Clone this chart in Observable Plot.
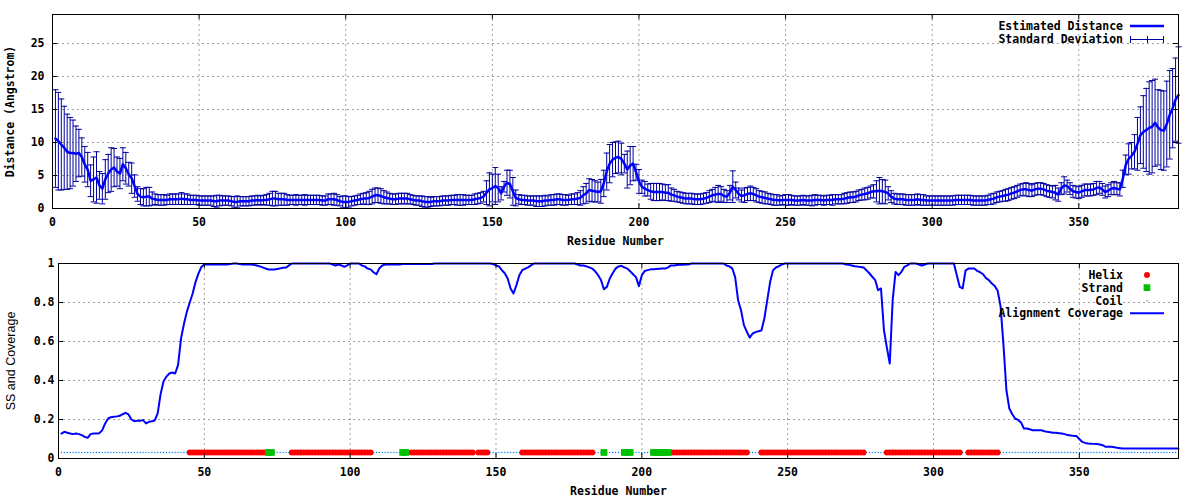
<!DOCTYPE html>
<html><head><meta charset="utf-8">
<script src="https://cdn.jsdelivr.net/npm/d3@7"></script>
<script src="https://cdn.jsdelivr.net/npm/@observablehq/plot@0.6"></script>
<style>body{margin:0;background:#fff}#chart svg{display:block}</style>
</head><body><div id="chart"></div>
<script>
// ---------- DATA ----------
const residues = d3.range(1, 385);
const distMean = [
10.6,10.2,9.7,9.2,8.6,8.4,8.4,8.3,8.4,7.8,
6.7,5.9,4.2,4.4,4.7,3.5,3.0,4.4,5.3,5.9,
6.2,5.6,5.3,6.7,6.1,5.2,4.6,3.4,2.2,1.8,
1.7,1.8,1.8,1.5,1.4,1.3,1.3,1.3,1.3,1.4,
1.4,1.4,1.4,1.5,1.4,1.4,1.3,1.3,1.3,1.2,
1.2,1.2,1.2,1.2,1.1,1.1,1.2,1.2,1.2,1.2,
1.1,1.0,1.0,1.1,1.1,1.1,1.1,1.2,1.2,1.3,
1.2,1.3,1.3,1.4,1.5,1.5,1.4,1.4,1.4,1.3,
1.3,1.3,1.3,1.3,1.3,1.3,1.3,1.3,1.3,1.3,
1.3,1.2,1.2,1.4,1.4,1.4,1.3,1.1,1.0,1.0,
1.0,1.1,1.2,1.3,1.4,1.5,1.5,1.6,1.8,2.0,
2.0,1.9,1.7,1.6,1.5,1.4,1.4,1.5,1.5,1.5,
1.5,1.4,1.3,1.2,1.2,1.1,1.0,1.0,1.0,1.1,
1.1,1.1,1.2,1.2,1.2,1.3,1.3,1.3,1.3,1.3,
1.3,1.3,1.3,1.4,1.5,1.6,1.8,2.4,2.9,3.1,
3.4,3.1,2.3,3.3,3.9,3.7,2.6,1.6,1.4,1.3,
1.3,1.2,1.2,1.2,1.1,1.1,1.1,1.2,1.2,1.3,
1.3,1.4,1.4,1.3,1.3,1.3,1.4,1.4,1.5,1.6,
2.0,2.3,2.8,2.7,2.6,2.5,2.6,3.8,5.6,6.8,
7.4,7.7,7.8,7.5,6.8,5.9,6.5,6.8,5.5,4.1,
3.3,3.0,2.8,2.6,2.5,2.5,2.5,2.5,2.4,2.4,
2.1,2.0,1.8,1.7,1.6,1.5,1.5,1.5,1.4,1.4,
1.4,1.5,1.6,1.8,2.0,2.1,2.2,2.2,1.9,1.8,
2.4,3.3,2.8,2.2,1.9,2.0,2.2,2.3,2.2,2.0,
1.8,1.7,1.6,1.5,1.4,1.3,1.3,1.2,1.3,1.3,
1.3,1.3,1.2,1.2,1.2,1.3,1.2,1.2,1.2,1.3,
1.3,1.3,1.2,1.3,1.3,1.3,1.4,1.4,1.4,1.5,
1.6,1.7,1.7,1.8,2.0,2.1,2.2,2.3,2.5,2.6,
2.6,2.7,2.6,2.5,2.3,1.8,1.5,1.4,1.4,1.4,
1.3,1.3,1.3,1.3,1.4,1.3,1.3,1.2,1.2,1.2,
1.2,1.2,1.2,1.2,1.2,1.2,1.2,1.3,1.3,1.3,
1.3,1.3,1.3,1.2,1.2,1.2,1.2,1.2,1.3,1.4,
1.5,1.7,1.8,1.9,2.0,2.1,2.3,2.4,2.6,2.8,
2.9,2.9,2.8,2.7,2.9,3.0,3.0,2.9,2.7,2.6,
2.5,2.4,2.1,3.0,3.5,3.4,3.0,2.6,2.5,2.4,
2.6,2.8,2.8,2.8,2.9,3.1,3.2,2.9,2.5,2.7,
3.0,3.1,3.0,2.9,4.5,6.6,7.5,8.0,8.6,9.8,
11.1,11.6,11.9,12.2,12.4,13.0,12.3,11.9,11.8,12.8,
14.2,15.2,16.5,17.2];
const distSD = [
7.4,7.4,6.9,6.3,5.7,5.4,5.0,4.2,3.6,2.9,
2.7,2.6,2.4,3.4,3.9,2.1,2.3,3.0,2.9,3.3,
2.9,2.2,2.3,2.5,2.4,1.8,2.3,1.7,1.1,1.2,
1.3,1.4,1.4,1.0,0.8,0.8,0.8,0.8,0.7,0.8,
0.8,0.8,0.8,0.9,0.8,0.8,0.7,0.7,0.7,0.7,
0.7,0.7,0.7,0.7,0.8,0.9,0.8,0.7,0.7,0.7,
0.7,0.8,0.9,0.7,0.7,0.7,0.7,0.7,0.7,0.7,
0.7,0.7,0.8,0.9,1.1,1.1,0.9,0.9,0.9,0.8,
0.7,0.7,0.8,0.7,0.7,0.8,0.7,0.7,0.7,0.7,
0.7,0.7,0.7,0.8,0.8,0.9,0.8,0.7,0.9,0.9,
0.8,0.7,0.7,0.7,0.8,0.8,0.9,1.0,1.1,1.1,
1.1,1.1,1.0,0.9,0.8,0.8,0.8,0.8,0.8,0.8,
0.8,0.7,0.7,0.7,0.7,0.8,0.8,0.8,0.7,0.7,
0.7,0.7,0.7,0.7,0.7,0.7,0.7,0.8,0.8,0.8,
0.7,0.7,0.7,0.8,0.8,0.8,0.8,1.8,2.5,2.1,
2.8,2.1,1.0,0.8,1.9,2.1,2.1,1.2,0.7,0.7,
0.7,0.7,0.7,0.7,0.8,0.8,0.8,0.8,0.7,0.8,
0.8,0.8,0.8,0.8,0.8,0.7,0.8,0.8,0.9,1.1,
1.3,1.5,1.7,1.7,1.6,1.5,1.8,2.0,2.8,2.9,
2.6,2.4,2.4,2.4,1.4,2.8,2.9,2.6,1.2,1.8,
1.0,1.1,0.9,1.2,1.3,1.3,1.3,1.2,1.2,1.2,
1.0,0.9,0.8,0.8,0.8,0.8,0.8,0.8,0.8,0.8,
0.8,0.8,0.8,0.9,0.9,1.1,1.3,1.1,1.0,0.9,
1.1,2.4,1.2,0.9,0.9,1.1,1.0,1.1,1.0,1.0,
0.9,0.9,0.9,0.8,0.8,0.8,0.8,0.7,0.7,0.8,
0.8,0.7,0.7,0.7,0.7,0.7,0.7,0.7,0.8,0.8,
0.7,0.7,0.7,0.7,0.7,0.8,0.7,0.7,0.7,0.8,
0.8,0.8,0.8,0.8,0.8,0.8,0.9,0.9,0.9,1.0,
1.6,2.0,1.8,1.8,1.0,0.9,0.8,0.8,0.8,0.8,
0.8,0.8,0.8,0.8,0.8,0.8,0.8,0.7,0.7,0.7,
0.7,0.7,0.7,0.7,0.7,0.7,0.7,0.7,0.7,0.7,
0.7,0.7,0.7,0.7,0.7,0.7,0.7,0.7,0.7,0.8,
0.8,0.8,0.8,0.8,0.9,0.9,0.9,0.9,0.9,0.9,
0.9,1.0,1.0,0.9,0.9,0.9,0.9,0.9,0.9,0.9,
0.9,1.1,1.0,0.9,1.3,0.9,0.9,0.9,0.9,0.9,
0.9,0.9,0.9,0.9,0.9,1.0,0.9,0.9,0.9,0.9,
0.9,1.0,0.9,1.0,1.3,1.5,2.3,2.0,2.6,4.0,
4.3,5.5,6.3,7.0,7.0,6.6,5.7,6.0,6.0,6.5,
6.7,6.0,6.3,7.3];
const coverage = [
0.128,0.137,0.132,0.128,0.125,0.128,0.125,0.120,0.111,0.106,
0.125,0.128,0.128,0.130,0.145,0.180,0.205,0.212,0.214,0.216,
0.219,0.227,0.234,0.226,0.200,0.191,0.193,0.193,0.197,0.180,
0.188,0.191,0.195,0.231,0.330,0.395,0.420,0.436,0.441,0.436,
0.480,0.615,0.690,0.752,0.800,0.846,0.906,0.949,0.983,0.995,
0.995,0.995,0.995,0.995,0.995,0.995,0.995,0.995,0.998,1,
1,0.998,0.995,0.995,0.995,0.995,0.993,0.990,0.985,0.980,
0.974,0.969,0.969,0.969,0.972,0.975,0.978,0.979,0.990,1,
1,1,1,1,1,1,1,1,1,1,
1,1,1,0.995,0.990,0.995,0.990,0.983,0.990,1,
1,1,1,0.990,0.985,0.974,0.970,0.955,0.945,0.975,
0.990,0.995,0.995,0.995,0.995,0.995,0.995,0.997,0.997,0.997,
0.997,0.997,0.997,0.997,0.997,0.997,0.998,0.998,1,1,
1,1,1,1,1,1,1,1,1,1,
1,1,1,1,1,1,1,1,0.997,0.990,
0.985,0.966,0.950,0.923,0.872,0.846,0.889,0.940,0.966,0.974,
0.980,0.990,1,1,1,1,1,1,1,1,
1,1,1,1,1,1,1,0.995,0.990,0.990,
0.985,0.980,0.974,0.960,0.940,0.915,0.868,0.880,0.923,0.950,
0.974,0.985,0.988,0.980,0.974,0.960,0.945,0.930,0.884,0.940,
0.962,0.966,0.970,0.971,0.972,0.973,0.974,0.974,0.980,0.990,
0.990,0.992,0.993,0.994,0.995,0.995,1,1,1,1,
1,1,1,1,1,1,1,1,0.990,0.985,
0.975,0.930,0.812,0.761,0.684,0.650,0.620,0.641,0.648,0.653,
0.656,0.718,0.812,0.906,0.966,0.980,0.986,0.995,1,1,
1,1,1,1,1,1,1,1,1,1,
1,1,1,1,1,1,1,1,1,0.995,
0.993,0.990,0.986,0.984,0.982,0.980,0.965,0.950,0.932,0.915,
0.863,0.872,0.660,0.570,0.487,0.812,0.957,0.940,0.957,0.983,
0.990,1,1,1,0.995,0.990,0.995,1,1,1,
1,1,1,1,1,1,1,0.940,0.880,0.872,
0.965,0.974,0.974,0.974,0.962,0.955,0.945,0.925,0.915,0.897,
0.885,0.860,0.780,0.580,0.350,0.256,0.227,0.205,0.198,0.185,
0.154,0.154,0.150,0.145,0.145,0.145,0.145,0.140,0.137,0.135,
0.132,0.132,0.130,0.128,0.125,0.120,0.118,0.116,0.115,0.100,
0.085,0.080,0.077,0.076,0.075,0.074,0.072,0.068,0.060,0.060,
0.060,0.058,0.055,0.053,0.051,0.051,0.051,0.051,0.051,0.051,
0.051,0.051,0.051,0.051,0.051,0.051,0.051,0.051,0.051,0.051,
0.051,0.051,0.051,0.051];
const helixSegments = [[45,71],[80,107],[121,142],[144,147],[159,183],[210,236],[241,276],[284,309],[312,322]];
const strandSegments = [[72,73],[118,119],[187,187],[194,196],[204,209]];
const ssLevel = 0.031;
const xTicks = [0,50,100,150,200,250,300,350];
const distTicks = [0,5,10,15,20,25];
const covTicks = [0,0.2,0.4,0.6,0.8,1];

// ---------- TABLES ----------
const inSeg = (segs, r) => segs.some(([a,b]) => r >= a && r <= b);
const dist = residues.map((r,i) => ({r, m: distMean[i], s: distSD[i]}));
const cov = residues.map((r,i) => ({r, c: coverage[i]}));
const ss = residues.map(r => ({r, t: inSeg(helixSegments, r) ? "H" : inSeg(strandSegments, r) ? "E" : "C"}));

// ---------- STYLE ----------
const W = 1200, H = 250;
const mono = "'DejaVu Sans Mono','Liberation Mono',monospace";
const navy = "#0000a0", blue = "#0000ff", gridC = "#a0a0a0";
const cap = {draw(ctx, size){ const w = Math.sqrt(size/Math.PI); ctx.moveTo(-w,0); ctx.lineTo(w,0); }};
function frameTicks(xT, yT, mL, mR, mT, mB) {
  const pw = W - mL - mR, ph = H - mT - mB, t = 5;
  return [
    Plot.ruleX(xT, {x: d=>d, insetTop: ph - t, stroke: "black"}),
    Plot.ruleX(xT, {x: d=>d, insetBottom: ph - t, stroke: "black"}),
    Plot.ruleY(yT, {y: d=>d, insetRight: pw - t, stroke: "black"}),
    Plot.ruleY(yT, {y: d=>d, insetLeft: pw - t, stroke: "black"})
  ];
}
const baseStyle = {fontFamily: mono, fontSize: "11.5px", fontWeight: "bold", background: "white", color: "black"};

// ---------- TOP PANEL ----------
const tM = {l: 52, r: 22, t: 14, b: 42};
const topPlot = Plot.plot({
  width: W, height: H, marginLeft: tM.l, marginRight: tM.r, marginTop: tM.t, marginBottom: tM.b,
  style: baseStyle,
  x: {domain: [0, 384]},
  y: {domain: [0, 29.4]},
  marks: [
    Plot.ruleX(xTicks.filter(d => d > 0), {x: d=>d, stroke: gridC, strokeDasharray: "2,3"}),
    Plot.ruleY(distTicks.filter(d => d > 0), {y: d=>d, stroke: gridC, strokeDasharray: "2,3"}),
    Plot.ruleX(dist, {x: "r", y1: d => d.m - d.s, y2: d => d.m + d.s, stroke: navy, strokeWidth: 1}),
    Plot.dot(dist, {x: "r", y: d => d.m + d.s, symbol: cap, r: 3, stroke: navy, fill: "none", strokeWidth: 1}),
    Plot.dot(dist, {x: "r", y: d => d.m - d.s, symbol: cap, r: 3, stroke: navy, fill: "none", strokeWidth: 1}),
    Plot.line(dist, {x: "r", y: "m", stroke: blue, strokeWidth: 2.5}),
    Plot.frame({stroke: "black"}),
    ...frameTicks(xTicks, distTicks, tM.l, tM.r, tM.t, tM.b),
    Plot.axisX({ticks: xTicks, tickSize: 0, tickPadding: 9, label: null}),
    Plot.axisY({ticks: distTicks, tickSize: 0, tickPadding: 8, label: null}),
    Plot.text(["Residue Number"], {text: d=>d, frameAnchor: "bottom", dy: 32.7, textAnchor: "middle", lineAnchor: "middle"}),
    Plot.text(["Distance (Angstrom)"], {text: d=>d, frameAnchor: "left", dx: -42, rotate: -90, textAnchor: "middle", lineAnchor: "middle"})
  ]
});

// ---------- BOTTOM PANEL ----------
const bM = {l: 58, r: 22, t: 13, b: 42};
const botPlot = Plot.plot({
  width: W, height: H, marginLeft: bM.l, marginRight: bM.r, marginTop: bM.t, marginBottom: bM.b,
  style: baseStyle,
  x: {domain: [0, 384]},
  y: {domain: [0, 1]},
  marks: [
    Plot.ruleX(xTicks.filter(d => d > 0), {x: d=>d, stroke: gridC, strokeDasharray: "2,3"}),
    Plot.ruleY(covTicks.filter(d => d > 0 && d < 1), {y: d=>d, stroke: gridC, strokeDasharray: "2,3"}),
    Plot.dot(ss.filter(d => d.t === "C"), {x: "r", y: () => ssLevel, r: 0.7, fill: "#0080ff", stroke: null}),
    Plot.dot(ss.filter(d => d.t === "H"), {x: "r", y: () => ssLevel, r: 3, fill: "#ff0000", stroke: null}),
    Plot.dot(ss.filter(d => d.t === "E"), {x: "r", y: () => ssLevel, r: 3.8, symbol: "square", fill: "#00c000", stroke: null}),
    Plot.line(cov, {x: "r", y: "c", stroke: blue, strokeWidth: 2}),
    Plot.frame({stroke: "black"}),
    ...frameTicks(xTicks, covTicks, bM.l, bM.r, bM.t, bM.b),
    Plot.axisX({ticks: xTicks, tickSize: 0, tickPadding: 9, label: null}),
    Plot.axisY({ticks: covTicks, tickSize: 0, tickPadding: 4, label: null, tickFormat: d => String(d)}),
    Plot.text(["Residue Number"], {text: d=>d, frameAnchor: "bottom", dy: 32.7, textAnchor: "middle", lineAnchor: "middle"}),
    Plot.text(["SS and Coverage"], {text: d=>d, frameAnchor: "left", dx: -47.3, rotate: -90, textAnchor: "middle", lineAnchor: "middle",
      fontFamily: "'Liberation Sans',Arial,sans-serif", fontWeight: "normal", fontSize: 12.5})
  ]
});

// ---------- LEGENDS ----------
function legendText(g, txt, y) {
  g.append("text").attr("x", 1123).attr("y", y).attr("dy", "0.35em").attr("text-anchor", "end")
    .attr("fill", "black").text(txt);
}
{
  const g = d3.select(topPlot).append("g");
  legendText(g, "Estimated Distance", 26);
  g.append("line").attr("x1", 1130).attr("x2", 1164).attr("y1", 26).attr("y2", 26).attr("stroke", blue).attr("stroke-width", 2.5);
  legendText(g, "Standard Deviation", 39);
  g.append("line").attr("x1", 1130).attr("x2", 1164).attr("y1", 39.5).attr("y2", 39.5).attr("stroke", navy);
  for (const x of [1130.5, 1147.5, 1163.5])
    g.append("line").attr("x1", x).attr("x2", x).attr("y1", 36).attr("y2", 43).attr("stroke", navy);
}
{
  const g = d3.select(botPlot).append("g");
  legendText(g, "Helix", 25);
  g.append("circle").attr("cx", 1147).attr("cy", 25).attr("r", 3).attr("fill", "#ff0000");
  legendText(g, "Strand", 37.7);
  g.append("rect").attr("x", 1143.6).attr("y", 34.3).attr("width", 6.7).attr("height", 6.7).attr("fill", "#00c000");
  legendText(g, "Coil", 50.7);
  g.append("circle").attr("cx", 1147).attr("cy", 50.7).attr("r", 0.7).attr("fill", "#0080ff");
  legendText(g, "Alignment Coverage", 63.3);
  g.append("line").attr("x1", 1130).attr("x2", 1164).attr("y1", 63.3).attr("y2", 63.3).attr("stroke", blue).attr("stroke-width", 2);
}

const el = document.getElementById("chart");
el.append(topPlot, botPlot);
</script></body></html>
